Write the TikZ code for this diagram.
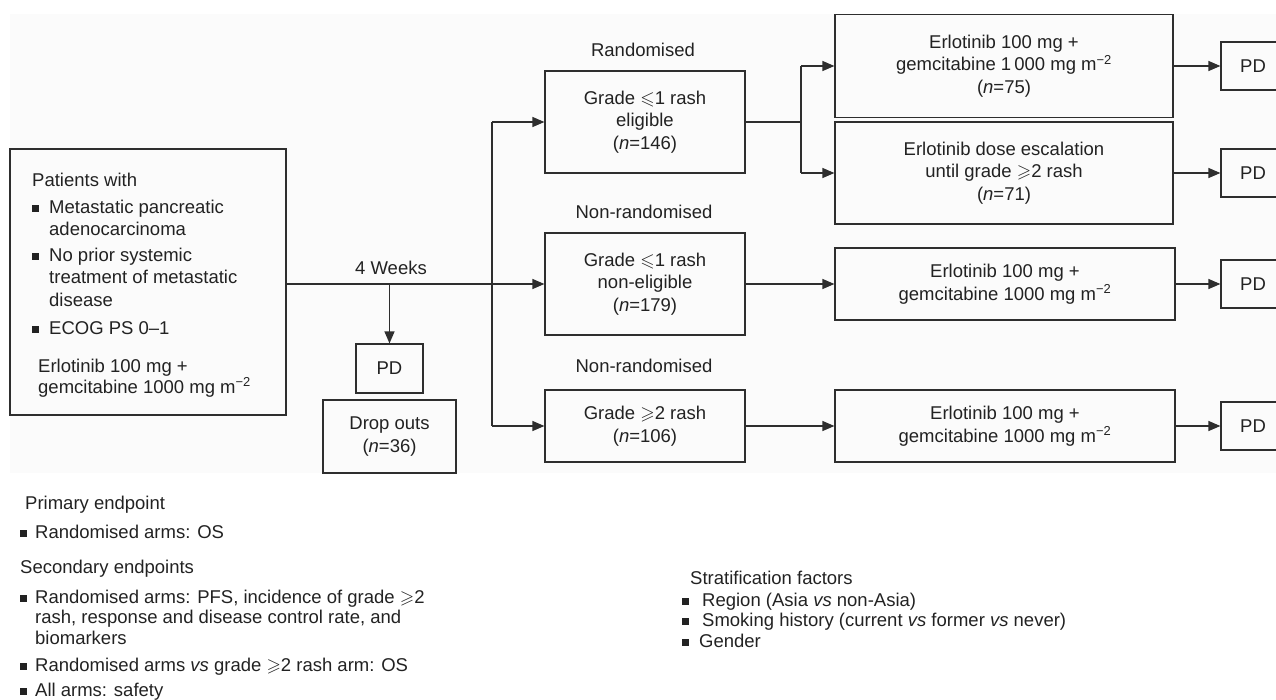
\documentclass[tikz,border=0pt]{standalone}
\usepackage{amssymb}
\usepackage{fontspec}
\setmainfont{Liberation Sans}
\usetikzlibrary{arrows.meta}
\definecolor{lncol}{HTML}{2E2E2E}
\definecolor{txcol}{HTML}{222222}
\definecolor{bgcol}{HTML}{FBFBFB}
\newcommand\bsq{\rule[1.5pt]{6.5pt}{6.5pt}}
\newcommand\nn{\textit{n}}
\newcommand\bl[1]{\makebox[#1][l]{\bsq}}
\begin{document}
\begin{tikzpicture}[x=1pt,y=-1pt,
  every node/.style={font=\fontsize{18.5}{22.5}\selectfont, text=txcol},
  box/.style={draw=lncol, line width=1.2pt, align=center, inner sep=0pt},
  txt/.style={anchor=base west, inner sep=0pt},
  conn/.style={draw=lncol, line width=1.2pt},
  arr/.style={draw=lncol, line width=1.2pt, -{Triangle[length=12pt,width=10pt]}}]
\useasboundingbox (0,0) rectangle (1276,699);
\fill[bgcol] (10,14) rectangle (1276,473);

% left box
\node[box, minimum width=276pt, minimum height=266pt] (L) at (148,282) {};
\node[txt] (l1) at (32,186) {Patients with};
\node[txt] (l2) at (32,213) {\bl{17pt}Metastatic pancreatic};
\node[txt] (l3) at (49,235) {adenocarcinoma};
\node[txt] (l4) at (32,261) {\bl{17pt}No prior systemic};
\node[txt] (l5) at (49,283) {treatment of metastatic};
\node[txt] (l6) at (49,306) {disease};
\node[txt] (l7) at (32,334) {\bl{17pt}ECOG PS 0–1};
\node[txt] (l8) at (38,372) {Erlotinib 100 mg +};
\node[txt] (l9) at (38,393) {gemcitabine 1000 mg m\textsuperscript{−2}};

% middle
\node (wk) at (391,268) {4 Weeks};
\node[box, minimum width=67pt, minimum height=49pt] (PD0) at (389.5,368.5) {PD};
\node[box, minimum width=133pt, minimum height=73pt] (DO) at (389.5,436.5) {Drop outs\\(\nn=36)};

% grade boxes
\node (lr) at (643,50) {Randomised};
\node (ln1) at (644,212) {Non-randomised};
\node (ln2) at (644,366) {Non-randomised};
\node[box, minimum width=200pt, minimum height=102pt] (B1) at (645,122) {Grade $\leqslant$1 rash\\eligible\\(\nn=146)};
\node[box, minimum width=200pt, minimum height=102pt] (B2) at (645,284) {Grade $\leqslant$1 rash\\non-eligible\\(\nn=179)};
\node[box, minimum width=200pt, minimum height=72pt] (B3) at (645,426) {Grade $\geqslant$2 rash\\(\nn=106)};

% treatment boxes
\node[box, minimum width=338pt, minimum height=103pt] (R1) at (1004,66) {Erlotinib 100 mg +\\gemcitabine 1\,000 mg m\textsuperscript{−2}\\(\nn=75)};
\node[box, minimum width=338pt, minimum height=102pt] (R2) at (1004,173) {Erlotinib dose escalation\\until grade $\geqslant$2 rash\\(\nn=71)};
\node[box, minimum width=340pt, minimum height=72pt] (R3) at (1005,284) {Erlotinib 100 mg +\\gemcitabine 1000 mg m\textsuperscript{−2}};
\node[box, minimum width=340pt, minimum height=72pt] (R4) at (1005,426) {Erlotinib 100 mg +\\gemcitabine 1000 mg m\textsuperscript{−2}};

% PD boxes (cut by the right edge)
\begin{scope}
\clip (0,0) rectangle (1276,699);
\node[box, minimum width=64pt, minimum height=48pt] (P1) at (1253,66) {PD};
\node[box, minimum width=64pt, minimum height=48pt] (P2) at (1253,173) {PD};
\node[box, minimum width=64pt, minimum height=48pt] (P3) at (1253,284) {PD};
\node[box, minimum width=64pt, minimum height=48pt] (P4) at (1253,426) {PD};
\end{scope}

% connectors
\coordinate (vx) at (492,0);
\coordinate (sx) at (801,0);
\draw[arr] (B2.west -| L.east) -- (B2.west);
\draw[arr] (B2.west -| PD0.north) -- (PD0.north);
\draw[conn] (B1.west -| vx) -- (B3.west -| vx);
\draw[arr] (B1.west -| vx) -- (B1.west);
\draw[arr] (B3.west -| vx) -- (B3.west);
\draw[conn] (B1.east) -- (B1.east -| sx);
\draw[conn] (R1.west -| sx) -- (R2.west -| sx);
\draw[arr] (R1.west -| sx) -- (R1.west);
\draw[arr] (R2.west -| sx) -- (R2.west);
\draw[arr] (B2.east) -- (R3.west);
\draw[arr] (B3.east) -- (R4.west);
\draw[arr] (R1.east) -- (P1.west);
\draw[arr] (R2.east) -- (P2.west);
\draw[arr] (R3.east) -- (P3.west);
\draw[arr] (R4.east) -- (P4.west);

% endpoints
\node[txt] (e1) at (25,509) {Primary endpoint};
\node[txt] (e2) at (20,538) {\bl{15pt}Randomised arms: OS};
\node[txt] (e3) at (20,573) {Secondary endpoints};
\node[txt] (e4) at (20,603) {\bl{15pt}Randomised arms: PFS, incidence of grade $\geqslant$2};
\node[txt] (e5) at (35,623) {rash, response and disease control rate, and};
\node[txt] (e6) at (35,644) {biomarkers};
\node[txt] (e7) at (20,671) {\bl{15pt}Randomised arms \textit{vs} grade $\geqslant$2 rash arm: OS};
\node[txt] (e8) at (20,696) {\bl{15pt}All arms: safety};

% stratification
\node[txt] (s1) at (690,584) {Stratification factors};
\node[txt] (s2) at (682,606) {\bl{20pt}Region (Asia \textit{vs} non-Asia)};
\node[txt] (s3) at (682,626) {\bl{20pt}Smoking history (current \textit{vs} former \textit{vs} never)};
\node[txt] (s4) at (682,647) {\bl{17pt}Gender};
\end{tikzpicture}
\end{document}
